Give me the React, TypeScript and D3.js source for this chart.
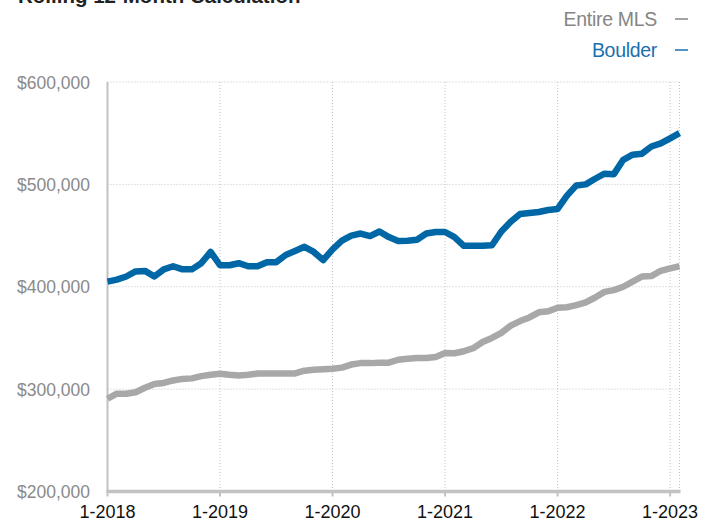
import React from "react";
import * as d3 from "d3";

const months: string[] = [];
for (let y = 2018; y <= 2023; y++) {
  for (let m = 1; m <= 12; m++) {
    if (y === 2023 && m > 2) break;
    months.push(`${m}-${y}`);
  }
}

const boulder = [
  405000, 407000, 410000, 415000, 415500, 410000, 417000, 420000, 417000, 417000, 423000, 434000,
  421000, 421000, 423000, 420000, 420000, 424000, 424000, 431000, 435000, 439000, 434000, 426000,
  436500, 445000, 450000, 452000, 449500, 454000, 448500, 444600, 445000, 446000, 452000, 453500,
  453500, 448500, 440000, 440000, 440000, 440500, 454000, 463500, 471000, 472000, 473000, 475000,
  476000, 489000, 499000, 500000, 505500, 510400, 510000, 524000, 529000, 530000, 537000, 540000,
  545000, 550000,
];

const entireMLS = [
  290600, 295500, 295500, 297000, 301300, 305000, 306000, 308500, 310000, 310500, 312700, 314000,
  315000, 314000, 313400, 314000, 315300, 315300, 315300, 315300, 315300, 318000, 319000, 319500,
  320000, 321000, 324000, 325400, 325400, 325800, 325800, 328700, 329700, 330300, 330300, 331300,
  335200, 335000, 337000, 340000, 346000, 350000, 355000, 362000, 366500, 370000, 375000, 376000,
  379500, 380000, 382000, 384700, 389500, 395000, 396700, 400000, 405000, 410000, 410400, 415600,
  418000, 420000,
];

const yTicks = [200000, 300000, 400000, 500000, 600000];
const xTickIndex = [0, 12, 24, 36, 48, 60];
const xTickLabels = ["1-2018", "1-2019", "1-2020", "1-2021", "1-2022", "1-2023"];
const seriesNames = ["Entire MLS", "Boulder"];

const W = 711;
const H = 521;
const FONT = "'Liberation Sans', Arial, Helvetica, sans-serif";
const BLUE = "#0067a7";
const GRAY = "#a8a8a8";

export default function App() {
  const x = d3.scaleLinear().domain([0, months.length - 1]).range([107.5, 679.5]);
  const y = d3.scaleLinear().domain([200000, 600000]).range([491.5, 82]);
  const line = d3
    .line<number>()
    .x((_, i) => x(i))
    .y((d) => y(d));
  const right = x(months.length - 1);
  const fmt = d3.format("$,.0f");

  return (
    <svg
      width={W}
      height={H}
      style={{ position: "absolute", left: 0, top: 0, background: "#fff" }}
      fontFamily={FONT}
    >
      <text x={18} y={3} fontSize={20.5} fontWeight={700} fill="#222">
        Rolling 12-Month Calculation
      </text>

      {/* legend */}
      <text x={657} y={26} fontSize={19.5} fill="#858585" textAnchor="end" letterSpacing={-0.3}>
        {seriesNames[0]}
      </text>
      <line x1={675} x2={688} y1={19} y2={19} stroke="#858585" strokeWidth={1.5} />
      <text x={657} y={56.5} fontSize={19.5} fill="#1a6fae" textAnchor="end" letterSpacing={-0.3}>
        {seriesNames[1]}
      </text>
      <line x1={675} x2={688} y1={50} y2={50} stroke="#1a6fae" strokeWidth={1.5} />

      {/* horizontal gridlines */}
      {yTicks.slice(1).map((t) => (
        <line
          key={t}
          x1={x(0)}
          x2={right}
          y1={y(t)}
          y2={y(t)}
          stroke="#c4c4c4"
          strokeWidth={1}
          strokeDasharray="1,2"
        />
      ))}
      {/* vertical gridlines */}
      {xTickIndex.slice(1).map((i) => (
        <line
          key={i}
          x1={x(i)}
          x2={x(i)}
          y1={y(600000)}
          y2={y(200000)}
          stroke="#c4c4c4"
          strokeWidth={1}
          strokeDasharray="1,2"
        />
      ))}
      <line
        x1={right}
        x2={right}
        y1={y(600000)}
        y2={y(200000)}
        stroke="#c4c4c4"
        strokeWidth={1}
        strokeDasharray="1,2"
      />

      {/* y tick labels */}
      {yTicks.map((t) => (
        <text
          key={t}
          x={90}
          y={y(t) + 6.5}
          fontSize={17.5}
          fill="#8a8a8a"
          textAnchor="end"
        >
          {fmt(t)}
        </text>
      ))}

      {/* axes */}
      <line x1={x(0)} x2={x(0)} y1={y(600000)} y2={y(200000)} stroke="#c2c2c2" strokeWidth={2} />
      {xTickIndex.map((i) => (
        <line key={i} x1={x(i)} x2={x(i)} y1={y(200000)} y2={y(200000) + 5} stroke="#c2c2c2" strokeWidth={2} />
      ))}
      <line x1={x(0) - 1} x2={right + 1} y1={y(200000)} y2={y(200000)} stroke="#c2c2c2" strokeWidth={3.5} />

      {/* x tick labels */}
      {xTickIndex.map((i, k) => (
        <text key={i} x={x(i)} y={517.5} fontSize={18} fill="#111" textAnchor="middle">
          {xTickLabels[k]}
        </text>
      ))}

      {/* series */}
      <path d={line(entireMLS) || ""} fill="none" stroke={GRAY} strokeWidth={6.5} strokeLinejoin="round" />
      <path d={line(boulder) || ""} fill="none" stroke={BLUE} strokeWidth={6.5} strokeLinejoin="round" />
    </svg>
  );
}
